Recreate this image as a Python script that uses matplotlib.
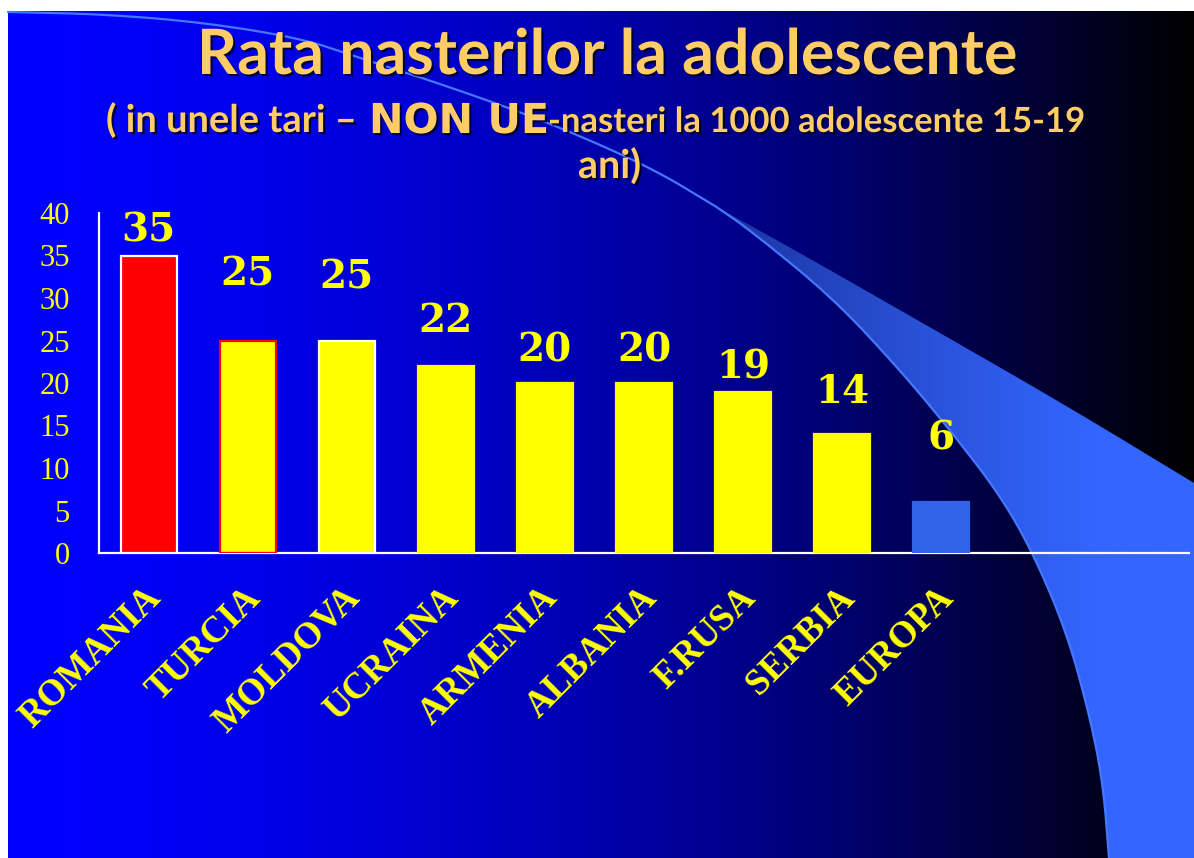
import numpy as np
import matplotlib
matplotlib.use('Agg')
import matplotlib.pyplot as plt
from matplotlib.path import Path
from matplotlib.patches import PathPatch, Rectangle
import matplotlib.patheffects as pe

# ---------------- data ----------------
categories = ['ROMANIA', 'TURCIA', 'MOLDOVA', 'UCRAINA', 'ARMENIA',
              'ALBANIA', 'F.RUSA', 'SERBIA', 'EUROPA']
values = [35, 25, 25, 22, 20, 20, 19, 14, 6]
yticks = [0, 5, 10, 15, 20, 25, 30, 35, 40]
title = 'Rata nasterilor la adolescente'
sub_a = '( in unele tari – '
sub_b = 'NON UE'
sub_c = '-nasteri la 1000 adolescente 15-19'
sub_d = 'ani)'

# ---------------- styles ----------------
bar_face = ['#FF0000'] + ['#FFFF00'] * 7 + ['#3163E6']
bar_edge = ['white', '#FF0000', 'white'] + ['#FFFF00'] * 5 + ['#3163E6']
label_gap_px = [14, 55, 52, 34, 22, 22, 13, 31, 53]
YEL = '#FFFF00'
ORANGE = '#FFCC66'

W, H = 1194, 858
fig = plt.figure(figsize=(W / 100, H / 100), dpi=100)
fig.patch.set_facecolor('white')
renderer = fig.canvas.get_renderer()

# ---------------- background slide ----------------
bg = fig.add_axes([0, 0, 1, 1], zorder=0)
bg.set_xlim(0, W)
bg.set_ylim(H, 0)
bg.axis('off')

xs = np.linspace(0, 1, 600)
b = np.clip(1 - xs ** 1.6, 0, 1)
grad = np.zeros((2, xs.size, 3))
grad[..., 2] = b
bg.imshow(grad, extent=[8, W, H, 11], aspect='auto', interpolation='bilinear', zorder=0)


def chaikin(pts, n=3):
    pts = np.asarray(pts, float)
    for _ in range(n):
        q = 0.75 * pts[:-1] + 0.25 * pts[1:]
        r = 0.25 * pts[:-1] + 0.75 * pts[1:]
        new = np.empty((2 * len(q), 2))
        new[0::2] = q
        new[1::2] = r
        pts = np.vstack([pts[0], new, pts[-1]])
    return pts


thin = chaikin([(8, 12), (100, 14), (200, 22), (300, 38), (357, 57), (450, 87),
                (550, 123), (650, 167), (715, 206)])
lower = chaikin([(715, 206), (750, 230), (833, 298), (900, 370), (950, 430),
                 (1000, 495), (1033, 553), (1067, 633), (1090, 717), (1103, 783),
                 (1109, 858)])
upper = chaikin([(715, 206), (800, 253), (933, 329), (1067, 406), (1194, 483)])

poly = np.vstack([upper, [(1194, 858)], lower[::-1]])
band = PathPatch(Path(poly, closed=True), facecolor='none', edgecolor='none')
bg.add_patch(band)
gx = np.linspace(0, 1, 400)
c0 = np.array([0x1A, 0x30, 0x98]) / 255
c1 = np.array([0x33, 0x66, 0xFF]) / 255
tt = np.clip(gx / 0.8, 0, 1)[:, None] ** 0.8
bandgrad = (c0 * (1 - tt) + c1 * tt)[None, :, :].repeat(2, axis=0)
im = bg.imshow(bandgrad, extent=[715, W, H, 200], aspect='auto', interpolation='bilinear', zorder=1)
im.set_clip_path(band)

line_pts = np.vstack([thin, lower])
bg.plot(line_pts[:, 0], line_pts[:, 1], color='#4677FF', lw=1.6, zorder=2, solid_capstyle='round')

# ---------------- title ----------------
shadow = [pe.withSimplePatchShadow(offset=(1.6, -1.6), shadow_rgbFace='#000022', alpha=0.85)]


def fit_text(s, x0, x1, yb, family, weight, size0, color=ORANGE):
    t = bg.text(x0, yb, s, ha='left', va='baseline', fontsize=size0,
                family=family, weight=weight, color=color, zorder=5, path_effects=shadow)
    w = t.get_window_extent(renderer).width
    t.set_fontsize(size0 * (x1 - x0) / w)
    return t


fit_text(title, 197, 1017, 74, 'Lato', 'bold', 40)
fit_text(sub_a, 106, 366, 132, 'Lato', 'bold', 20)
fit_text(sub_b, 369, 548, 133, 'DejaVu Sans', 'bold', 22)
fit_text(sub_c, 548, 1086, 132, 'Lato', 'bold', 20)
fit_text(sub_d, 578, 641, 178, 'Lato', 'bold', 20)

# ---------------- chart ----------------
x0, x1, y0, y1 = 99, 1189, 553, 213
ax = fig.add_axes([x0 / W, (H - y0) / H, (x1 - x0) / W, (y0 - y1) / H], zorder=3)
ax.patch.set_alpha(0)
x = np.arange(len(categories))
ax.bar(x, values, width=0.565, color=bar_face, edgecolor=bar_edge, linewidth=1.6, zorder=3)
ax.set_xlim(-0.5, 10.5)
ax.set_ylim(0, 40)
ax.set_yticks(yticks)
ax.set_yticklabels([str(v) for v in yticks], family='Liberation Serif', fontsize=22, color=YEL)
ax.tick_params(axis='y', length=0, pad=21)
ax.set_xticks([])
for s in ['top', 'right']:
    ax.spines[s].set_visible(False)
for s in ['left', 'bottom']:
    ax.spines[s].set_color('white')
    ax.spines[s].set_linewidth(1.6)

for i, (v, g) in enumerate(zip(values, label_gap_px)):
    ax.annotate(str(v), xy=(i, v), xytext=(0, g), textcoords='offset pixels',
                ha='center', va='baseline', family='DejaVu Serif', weight='bold',
                fontsize=28, color=YEL, zorder=5)

for i, name in enumerate(categories):
    ax.annotate(name, xy=(i, 0), xytext=(-5, -27), textcoords='offset pixels',
                ha='right', va='top', rotation=45, rotation_mode='anchor',
                family='Liberation Serif', weight='bold', fontsize=26.5, color=YEL,
                annotation_clip=False)

fig.savefig('out.png', dpi=100, facecolor=fig.get_facecolor())
